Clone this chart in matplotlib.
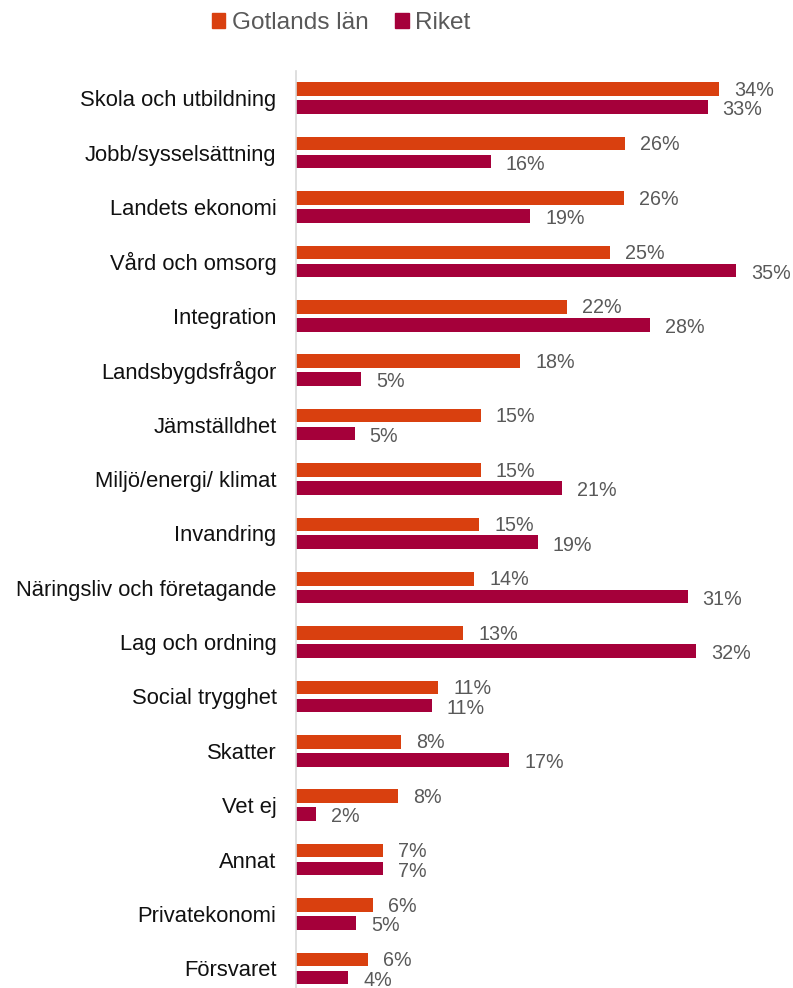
import numpy as np
import matplotlib.pyplot as plt
from matplotlib.patches import Patch

plt.rcParams['font.family'] = ['Liberation Sans', 'DejaVu Sans']

categories = ['Skola och utbildning', 'Jobb/sysselsättning', 'Landets ekonomi',
              'Vård och omsorg', 'Integration', 'Landsbygdsfrågor', 'Jämställdhet',
              'Miljö/energi/ klimat', 'Invandring', 'Näringsliv och företagande',
              'Lag och ordning', 'Social trygghet', 'Skatter', 'Vet ej', 'Annat',
              'Privatekonomi', 'Försvaret']
gotland = [33.9, 26.4, 26.3, 25.2, 21.7, 18.0, 14.8, 14.8, 14.7, 14.3,
           13.4, 11.4, 8.4, 8.2, 7.0, 6.2, 5.8]
riket = [33.0, 15.6, 18.8, 35.3, 28.4, 5.2, 4.7, 21.3, 19.4, 31.4,
         32.1, 10.9, 17.1, 1.6, 7.0, 4.8, 4.2]
series_names = ['Gotlands län', 'Riket']

c_got = '#D9400F'
c_rik = '#A5003A'
txt_gray = '#595959'

fig = plt.figure(figsize=(7.93, 9.88), dpi=100)
ax = fig.add_axes([296 / 793, 0, 1 - 296 / 793, 1 - 71 / 988])

y = np.arange(len(categories))
off = 0.165
h = 0.25
ax.barh(y - off, gotland, height=h, color=c_got)
ax.barh(y + off, riket, height=h, color=c_rik)

for yi, v in zip(y, gotland):
    ax.text(v + 1.2, yi - off + 0.02, f'{v:.0f}%', va='center', ha='left',
            fontsize=14.2, color=txt_gray)
for yi, v in zip(y, riket):
    ax.text(v + 1.2, yi + off + 0.05, f'{v:.0f}%', va='center', ha='left',
            fontsize=14.2, color=txt_gray)

ax.set_xlim(0, 39.85)
ax.set_ylim(16.36, -0.5)
ax.set_yticks(y)
ax.set_yticklabels(categories, fontsize=15.8, color='#111111')
ax.tick_params(axis='y', length=0, pad=14)
ax.set_xticks([])
for s in ['top', 'right', 'bottom']:
    ax.spines[s].set_visible(False)
ax.spines['left'].set_color('#D9D9D9')
ax.spines['left'].set_linewidth(1.2)

handles = [Patch(color=c_got), Patch(color=c_rik)]
fig.legend(handles, series_names, loc='center', bbox_to_anchor=(341 / 793, 1 - 23 / 988),
           ncol=2, frameon=False, fontsize=17.6, labelcolor=txt_gray,
           handlelength=0.55, handleheight=0.55, handletextpad=0.25, columnspacing=1.1)

fig.savefig('out.png', dpi=100)
